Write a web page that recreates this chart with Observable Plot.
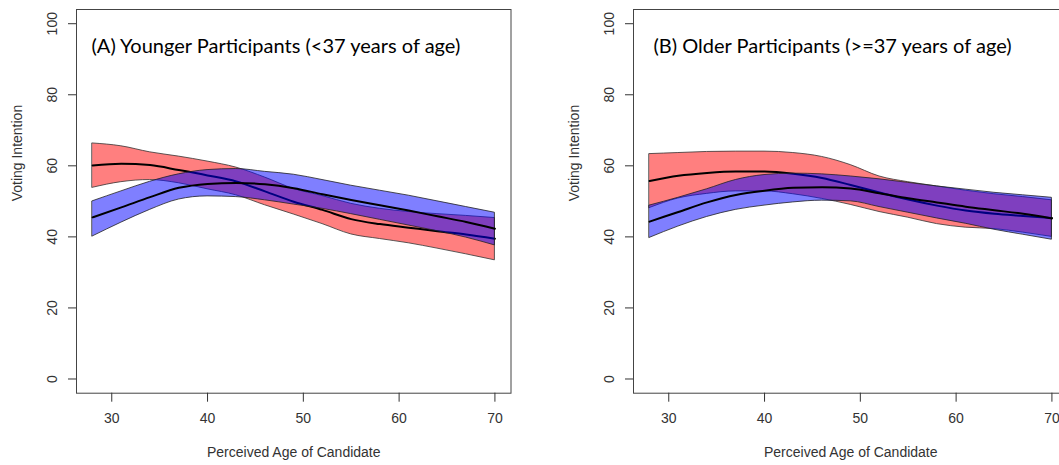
<!DOCTYPE html>
<html><head><meta charset="utf-8">
<script src="https://cdn.jsdelivr.net/npm/d3@7"></script>
<script src="https://cdn.jsdelivr.net/npm/@observablehq/plot@0.6"></script>
<style>
body{margin:0;background:#fff;}
#wrap{position:relative;width:1059px;height:465px;overflow:hidden;background:#fff;}
#wrap svg{position:absolute;top:0;}
</style></head><body><div id="wrap"></div>
<script>
// Perceived age of candidate (x grid)
const ages = [28,31,34,37,40,43,46,49,52,55,58,61,64,67,70];

// Panel A: Younger participants
const aRedMean  = [60.1,60.6,60.2,58.8,57.3,55.6,52.8,49.9,47.6,45.0,43.6,42.6,41.6,40.7,39.5];
const aRedLow   = [53.8,55.4,56.0,55.1,53.4,51.7,48.9,46.3,43.6,40.7,39.4,38.2,36.7,35.1,33.4];
const aRedHigh  = [66.3,65.5,63.8,62.6,61.2,59.5,56.7,53.5,51.5,49.3,47.9,47.0,46.4,45.9,45.3];
const aBlueMean = [45.5,48.3,51.2,53.8,54.9,55.2,54.8,53.7,52.0,50.4,48.9,47.4,45.8,44.2,42.3];
const aBlueLow  = [40.1,44.0,47.6,50.5,51.4,51.2,50.3,49.1,47.9,46.4,44.8,43.2,41.6,39.8,37.6];
const aBlueHigh = [50.0,52.8,55.5,57.6,58.8,59.1,58.3,57.5,56.0,54.4,53.0,51.6,50.0,48.4,46.8];

// Panel B: Older participants
const bRedMean  = [55.7,57.2,58.0,58.4,58.4,57.8,56.6,54.6,52.5,50.5,48.8,47.4,46.5,45.9,45.3];
const bRedLow   = [48.1,50.8,52.1,52.8,52.8,52.0,50.7,49.0,47.0,45.4,43.6,42.6,42.2,41.2,40.0];
const bRedHigh  = [63.3,63.6,63.9,64.0,64.0,63.6,62.5,60.2,57.0,55.4,54.2,53.0,52.0,51.2,50.3];
const bBlueMean = [44.3,47.0,49.7,51.8,53.0,53.8,54.0,53.6,52.3,50.9,49.7,48.5,47.5,46.5,45.2];
const bBlueLow  = [39.7,42.9,45.6,47.6,48.8,49.7,50.2,50.0,48.4,46.8,45.2,43.7,42.0,40.6,39.2];
const bBlueHigh = [48.8,51.0,53.4,56.0,57.4,57.8,57.6,57.0,56.2,55.2,54.2,53.3,52.4,51.7,51.0];

const xTicks = [30,40,50,60,70];
const yTicks = [0,20,40,60,80,100];
const xTitle = "Perceived Age of Candidate";
const yTitle = "Voting Intention";
const titles = ["(A) Younger Participants (<37 years of age)", "(B) Older Participants (>=37 years of age)"];

function panel(title, titleDx, s) {
  const rows = ages.map((x, i) => ({
    x, rm: s.rm[i], rl: s.rl[i], rh: s.rh[i], bm: s.bm[i], bl: s.bl[i], bh: s.bh[i]
  }));
  const curve = "monotone-x";
  return Plot.plot({
    width: 557, height: 465,
    marginLeft: 76, marginRight: 46.5, marginTop: 9, marginBottom: 72.3,
    x: {domain: [26.32, 71.68]},
    y: {domain: [-4, 104]},
    style: {fontFamily: "'Liberation Sans', Arial, sans-serif", fontSize: "14px", background: "transparent", overflow: "visible"},
    marks: [
      Plot.areaY(rows, {x: "x", y1: "rl", y2: "rh", fill: "#ff0000", fillOpacity: 0.5, stroke: "#333", strokeWidth: 0.8, curve}),
      Plot.lineY(rows, {x: "x", y: "rm", stroke: "black", strokeWidth: 2, curve}),
      Plot.areaY(rows, {x: "x", y1: "bl", y2: "bh", fill: "#0000ff", fillOpacity: 0.5, stroke: "#222", strokeWidth: 0.8, curve}),
      Plot.lineY(rows, {x: "x", y: "bm", stroke: "black", strokeWidth: 2, curve}),
      Plot.frame({stroke: "#444"}),
      Plot.axisY(yTicks, {tickSize: 8, tickRotate: -90, tickPadding: 12, label: null, color: "#333"}),
      Plot.axisX(xTicks, {tickSize: 9, tickPadding: 11, label: null, color: "#333"}),
      Plot.text([yTitle], {text: d => d, frameAnchor: "left", rotate: -90, dx: -59, fill: "#333"}),
      Plot.text([xTitle], {text: d => d, frameAnchor: "bottom", dy: 64, fill: "#333"}),
      Plot.text([title], {text: d => d, frameAnchor: "top-left", textAnchor: "start", dx: titleDx, dy: 29.5,
        fontFamily: "Lato", fontSize: 20, fill: "black"})
    ]
  });
}

const wrap = document.getElementById("wrap");
const pA = panel(titles[0], 15, {rm: aRedMean, rl: aRedLow, rh: aRedHigh, bm: aBlueMean, bl: aBlueLow, bh: aBlueHigh});
const pB = panel(titles[1], 20, {rm: bRedMean, rl: bRedLow, rh: bRedHigh, bm: bBlueMean, bl: bBlueLow, bh: bBlueHigh});
pA.style.left = "0px";
pB.style.left = "557px";
wrap.appendChild(pA);
wrap.appendChild(pB);
</script></body></html>
